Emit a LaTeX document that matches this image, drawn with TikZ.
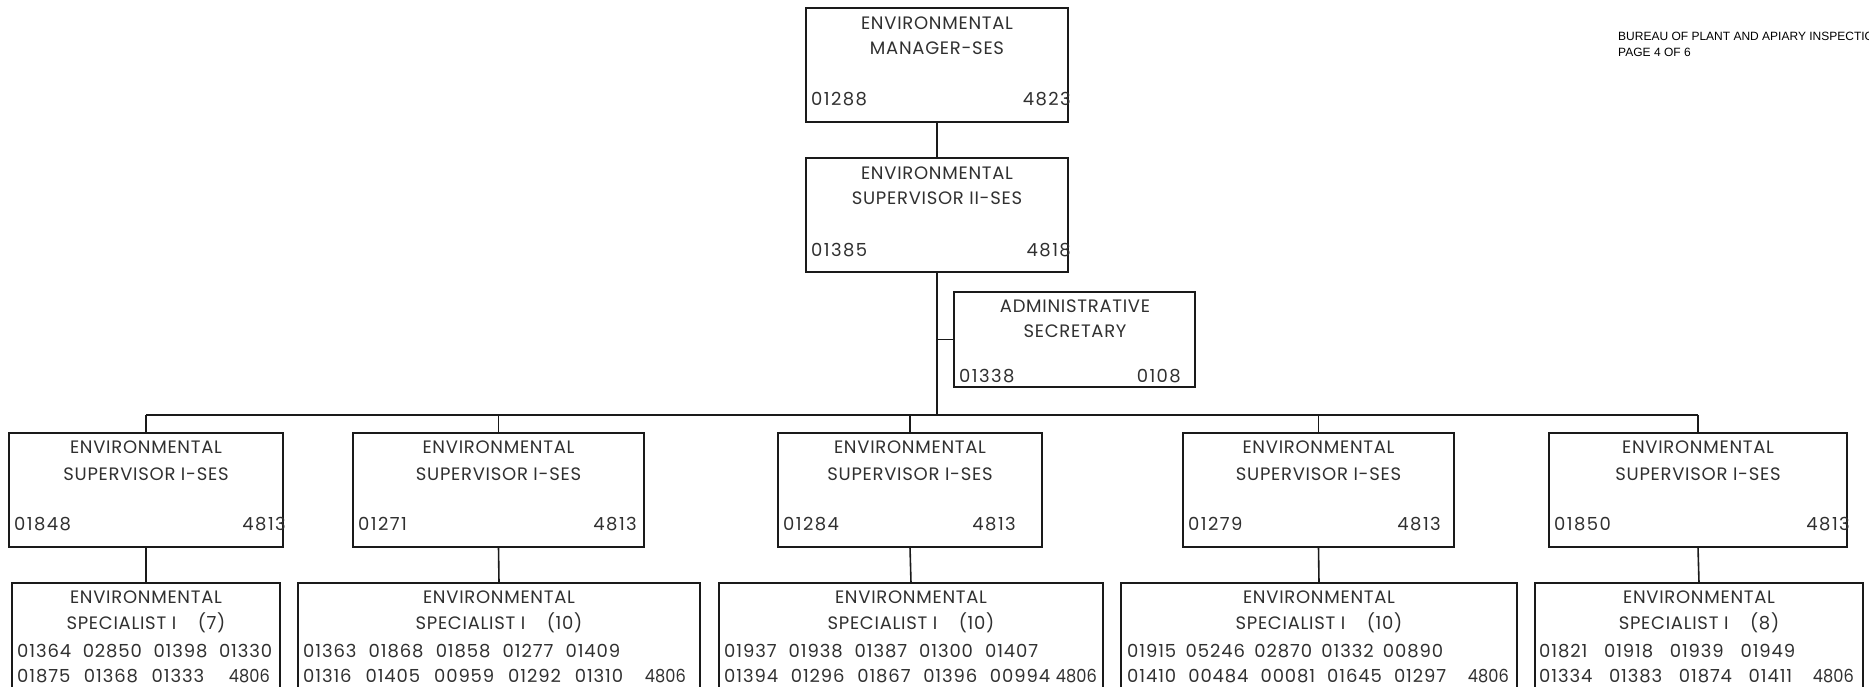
\documentclass[tikz,border=0pt]{standalone}
\usepackage{graphicx}
\usepackage{fontspec}
\setmainfont{Poppins}
\newfontfamily\ttlfont{Poppins}[LetterSpace=4]
\newfontfamily\numfont{Poppins}[LetterSpace=8]
\newfontfamily\rowfont{Poppins}[LetterSpace=5]
\newfontfamily\headfont{Liberation Sans}
\definecolor{linec}{HTML}{1A1A1A}
\definecolor{txtc}{HTML}{303030}
% box with corners (left,top) and (right,bottom), y grows downwards
\newcommand{\orgbox}[5]{%
  \node[box, minimum width={(#4-#2)*1pt}, minimum height={(#5-#3)*1pt}]
    (#1) at ({(#2+#4)/2},{(#3+#5)/2}) {};}
% a row of position numbers spread over a given width
\newcommand{\numrow}[2]{\makebox[#1pt][s]{#2}}
% narrow budget code at the end of a specialist row
\newcommand{\bcode}[1]{\scalebox{0.9}[1]{#1}}
\begin{document}
\begin{tikzpicture}[x=1pt,y=-1pt,
  box/.style={draw=linec, line width=1.6pt, rectangle, inner sep=0pt, outer sep=0pt},
  link/.style={draw=linec, line width=1.6pt},
  ttl/.style={anchor=base, inner sep=0pt, text=txtc, font=\ttlfont\fontsize{18}{20}\selectfont},
  numl/.style={anchor=base west, inner sep=0pt, text=txtc, font=\numfont\fontsize{18}{20}\selectfont},
  numr/.style={anchor=base east, inner sep=0pt, text=txtc, font=\numfont\fontsize{18}{20}\selectfont},
  rowl/.style={anchor=base west, inner sep=0pt, text=txtc, font=\rowfont\fontsize{18}{20}\selectfont},
  rowr/.style={anchor=base east, inner sep=0pt, text=txtc, font=\fontsize{18}{20}\selectfont},
  hdr/.style={anchor=base west, inner sep=0pt, text=black, font=\headfont\fontsize{12}{13}\selectfont}]
\useasboundingbox (0,0) rectangle (1869,687);
\clip (0,0) rectangle (1869,687);

% page header
\node[hdr] (hdra) at (1618,41) {BUREAU OF PLANT AND APIARY INSPECTION};
\node[hdr] (hdrb) at (1618,57) {PAGE 4 OF 6};

% top of the chain
\orgbox{mgr}{806}{8}{1068}{122}
\node[ttl] (mgrt1) at (937,30) {ENVIRONMENTAL};
\node[ttl] (mgrt2) at (937,55) {MANAGER-SES};
\node[numl] (mgrn1) at (811,106) {01288};
\node[numr] (mgrn2) at (1071,106) {4823};

\orgbox{sup}{806}{158}{1068}{272}
\node[ttl] (supt1) at (937,180) {ENVIRONMENTAL};
\node[ttl] (supt2) at (937,205) {SUPERVISOR II-SES};
\node[numl] (supn1) at (811,256) {01385};
\node[numr] (supn2) at (1071,256) {4818};

\orgbox{adm}{954}{292}{1195}{387}
\node[ttl] (admt1) at (1075,312) {ADMINISTRATIVE};
\node[ttl] (admt2) at (1075,337) {SECRETARY};
\node[numl] (admn1) at (959,382) {01338};
\node[numr] (admn2) at (1181,382) {0108};

% supervisors I
\orgbox{sa}{9}{433}{283}{547}
\orgbox{sb}{353}{433}{644}{547}
\orgbox{sc}{778}{433}{1042}{547}
\orgbox{sd}{1183}{433}{1454}{547}
\orgbox{se}{1549}{433}{1847}{547}
\foreach \n/\l/\r/\id in {sa/14/286/01848, sb/358/637/01271, sc/783/1016/01284, sd/1188/1441/01279, se/1554/1850/01850}{
  \node[ttl] (\n t1) at (\n.north |- 0,453) {ENVIRONMENTAL};
  \node[ttl] (\n t2) at (\n.north |- 0,480) {SUPERVISOR I-SES};
  \node[numl] (\n n1) at (\l,530) {\id};
  \node[numr] (\n n2) at (\r,530) {4813};
}

% specialists I
\orgbox{ea}{12}{583}{280}{710}
\orgbox{eb}{298}{583}{700}{710}
\orgbox{ec}{719}{583}{1103}{710}
\orgbox{ed}{1121}{583}{1517}{710}
\orgbox{ee}{1535}{583}{1863}{710}
\foreach \n/\cnt in {ea/7, eb/10, ec/10, ed/10, ee/8}{
  \node[ttl] (\n t1) at (\n.north |- 0,603) {ENVIRONMENTAL};
  \node[ttl] (\n t2) at (\n.north |- 0,629) {SPECIALIST I\hspace{1.2em}(\cnt)};
}
\node[rowl] (ear1) at (17,657) {\numrow{255}{01364 02850 01398 01330}};
\node[rowl] (ear2) at (17,682) {\numrow{187}{01875 01368 01333}};
\node[rowr] (eac) at (270,682) {\bcode{4806}};
\node[rowl] (ebr1) at (303,657) {\numrow{317}{01363 01868 01858 01277 01409}};
\node[rowl] (ebr2) at (303,682) {\numrow{320}{01316 01405 00959 01292 01310}};
\node[rowr] (ebc) at (686,682) {\bcode{4806}};
\node[rowl] (ecr1) at (724,657) {\numrow{314}{01937 01938 01387 01300 01407}};
\node[rowl] (ecr2) at (724,682) {\numrow{326}{01394 01296 01867 01396 00994}};
\node[rowr] (ecc) at (1097,682) {\bcode{4806}};
\node[rowl] (edr1) at (1127,657) {\numrow{316}{01915 05246 02870 01332 00890}};
\node[rowl] (edr2) at (1127,682) {\numrow{319}{01410 00484 00081 01645 01297}};
\node[rowr] (edc) at (1509,682) {\bcode{4806}};
\node[rowl] (eer1) at (1539,657) {\numrow{256}{01821 01918 01939 01949}};
\node[rowl] (eer2) at (1539,682) {\numrow{253}{01334 01383 01874 01411}};
\node[rowr] (eec) at (1854,682) {\bcode{4806}};

% connectors
\coordinate (bus) at (937,415);
\draw[link] (mgr.south) -- (sup.north);
\draw[link] (sup.south) -- (bus);
\draw[link] (adm.west) -- (adm.west -| sup.south);
\draw[link] (sa.north |- bus) -- (se.north |- bus);
\foreach \s/\e in {sa/ea, sb/eb, sc/ec, sd/ed, se/ee}{
  \draw[link] (\s.north) -- (\s.north |- bus);
  \draw[link] (\s.south) -- (\e.north);
}
\end{tikzpicture}
\end{document}
